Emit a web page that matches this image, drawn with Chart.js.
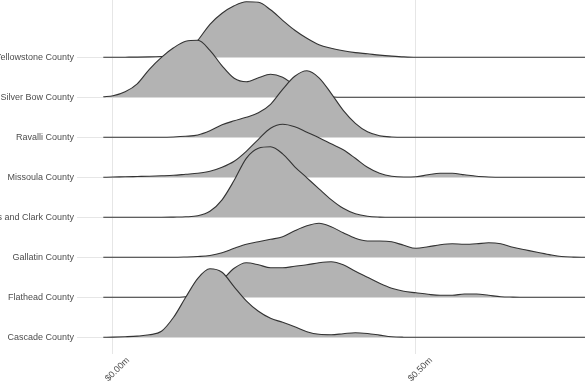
<!DOCTYPE html>
<html>
<head>
<meta charset="utf-8">
<script src="https://cdn.jsdelivr.net/npm/chart.js@4.4.0/dist/chart.umd.min.js"></script>
<style>
  body { margin: 0; background: #ffffff; }
</style>
</head>
<body>
<canvas id="ridges" width="585" height="390"></canvas>
<script>
// counties, top row first
var counties = ["Yellowstone County", "Silver Bow County", "Ravalli County", "Missoula County",
                "Lewis and Clark County", "Gallatin County", "Flathead County", "Cascade County"];

// sale price grid ($m) shared by every ridge
var prices = [-0.016, 0, 0.02, 0.04, 0.06, 0.08, 0.10, 0.12, 0.14, 0.16, 0.18, 0.20, 0.22, 0.24,
              0.26, 0.28, 0.30, 0.32, 0.34, 0.36, 0.38, 0.40, 0.42, 0.44, 0.46, 0.48, 0.50, 0.52,
              0.54, 0.56, 0.58, 0.60, 0.62, 0.64, 0.66, 0.68, 0.70, 0.72, 0.74, 0.76, 0.78];

var priceTicks = [0, 0.5];

// scaled densities (40 = one row step)
var yellowstone = [0, 0, 0.1, 0.2, 0.4, 0.8, 1.5, 5, 17, 33, 44, 51.5, 55.5, 55, 47.5, 37, 27, 19, 12.5,
                   9, 6.5, 4.7, 3.5, 2.2, 1.2, 0.4, 0, 0, 0, 0, 0, 0, 0, 0, 0, 0, 0, 0, 0, 0, 0];
var silverBow = [0.5, 1.5, 5.5, 13.5, 28, 40, 49.5, 56, 57, 47, 31.5, 19, 15.5, 19.5, 23, 20, 12, 5.5, 2,
                 0.5, 0, 0, 0, 0, 0, 0, 0, 0, 0, 0, 0, 0, 0, 0, 0, 0, 0, 0, 0, 0, 0];
var ravalli = [0, 0, 0, 0, 0, 0, 0.3, 1, 2.3, 6.5, 12.5, 16.5, 20, 24.5, 33, 48, 61, 66.5, 59.5, 44, 27,
               14, 5.5, 1.5, 0.3, 0, 0, 0, 0, 0, 0, 0, 0, 0, 0, 0, 0, 0, 0, 0, 0];
var missoula = [0, 0.3, 0.5, 0.8, 1.1, 1.5, 2, 3, 4, 6, 10, 16, 26, 38, 49, 53, 50.5, 45, 39.5, 33.5, 27.5,
                19, 10, 4, 1, 0.3, 0.5, 2.5, 4, 4, 2.5, 1, 0.3, 0, 0, 0, 0, 0, 0, 0, 0];
var lewisClark = [0, 0, 0, 0, 0, 0, 0.2, 0.5, 1.5, 6, 17.5, 37, 59, 69, 70.5, 63.5, 50.5, 39.5, 28.5, 17.7,
                  9, 3.5, 1, 0.2, 0, 0, 0, 0, 0, 0, 0, 0, 0, 0, 0, 0, 0, 0, 0, 0, 0];
var gallatin = [0, 0, 0, 0, 0, 0, 0, 0.3, 0.8, 1.8, 4.5, 9, 13, 15.5, 18, 20.5, 26.5, 31.5, 34, 30.5, 24.5,
                19, 16.3, 16.3, 15.5, 12, 9, 10.5, 12.5, 13.5, 13, 13.5, 14.5, 13.5, 10, 7.5, 5, 2.7, 0.8, 0.2, 0];
var flathead = [0, 0, 0, 0, 0, 0, 0, 0.5, 2, 7, 17, 29, 34.5, 32.5, 29.5, 29.5, 31, 32.5, 34.5, 35.5, 32.5,
                26, 20, 14, 9, 6, 4.5, 3, 2, 2, 3.3, 3.3, 2, 0.6, 0.2, 0, 0, 0, 0, 0, 0];
var cascade = [0, 0.2, 0.6, 1.2, 2.5, 6, 20, 40, 59, 68.5, 65, 50.5, 36.5, 26, 19, 15, 10.5, 5.6, 3, 2.6,
               3.6, 4.6, 3.8, 2.2, 0.6, 0.1, 0, 0, 0, 0, 0, 0, 0, 0, 0, 0, 0, 0, 0, 0, 0];

var densities = [yellowstone, silverBow, ravalli, missoula, lewisClark, gallatin, flathead, cascade];
var densityScale = 40;

var axisFont = { family: "'Liberation Sans', Arial, sans-serif", size: 9 };
var textColor = "#4d4d4d";
var gridColor = "#e6e6e6";

// one dataset per county, lower rows are drawn over upper ones
var datasets = [];
var nRows = counties.length;
for (var i = 0; i < nRows; i++) {
    var row = nRows - 1 - i;   // Cascade sits at 0
    var pts = [];
    for (var j = 0; j < prices.length; j++) {
        pts.push({ x: prices[j], y: row + densities[i][j] / densityScale });
    }
    datasets.push({
        label: counties[i],
        data: pts,
        order: row,
        fill: { value: row },
        backgroundColor: "#b3b3b3",
        borderColor: "#333333",
        borderWidth: 1.1,
        pointRadius: 0,
        cubicInterpolationMode: "monotone"
    });
}

function fmtPrice(v) {
    return "$" + v.toFixed(2) + "m";
}

var ctx = document.getElementById("ridges");
var ridgeChart = new Chart(ctx, {
    type: "line",
    data: { datasets: datasets },
    options: {
        responsive: false,
        animation: false,
        layout: { padding: 0 },
        plugins: {
            legend: { display: false },
            tooltip: { enabled: false }
        },
        scales: {
            x: {
                type: "linear",
                min: -0.0594,
                max: 0.779,
                afterBuildTicks: function (scale) {
                    scale.ticks = priceTicks.map(function (v) { return { value: v }; });
                },
                afterFit: function (scale) {
                    scale.height = 36;
                    scale.paddingLeft = 0;
                    scale.paddingRight = 0;
                },
                grid: { color: gridColor, lineWidth: 1, drawTicks: false },
                border: { display: false },
                ticks: {
                    minRotation: 45,
                    maxRotation: 45,
                    labelOffset: 15,
                    padding: 1,
                    color: textColor,
                    font: axisFont,
                    callback: function (v) { return fmtPrice(v); }
                }
            },
            y: {
                type: "linear",
                min: -0.4175,
                max: 8.4325,
                afterBuildTicks: function (scale) {
                    var t = [];
                    for (var r = 0; r < nRows; r++) t.push({ value: r });
                    scale.ticks = t;
                },
                afterFit: function (scale) {
                    scale.width = 77;
                    scale.paddingTop = 0;
                    scale.paddingBottom = 0;
                },
                grid: { color: gridColor, lineWidth: 1, drawTicks: false },
                border: { display: false },
                ticks: {
                    padding: 3,
                    color: textColor,
                    font: axisFont,
                    callback: function (v) { return counties[nRows - 1 - v]; }
                }
            }
        }
    }
});
</script>
</body>
</html>
